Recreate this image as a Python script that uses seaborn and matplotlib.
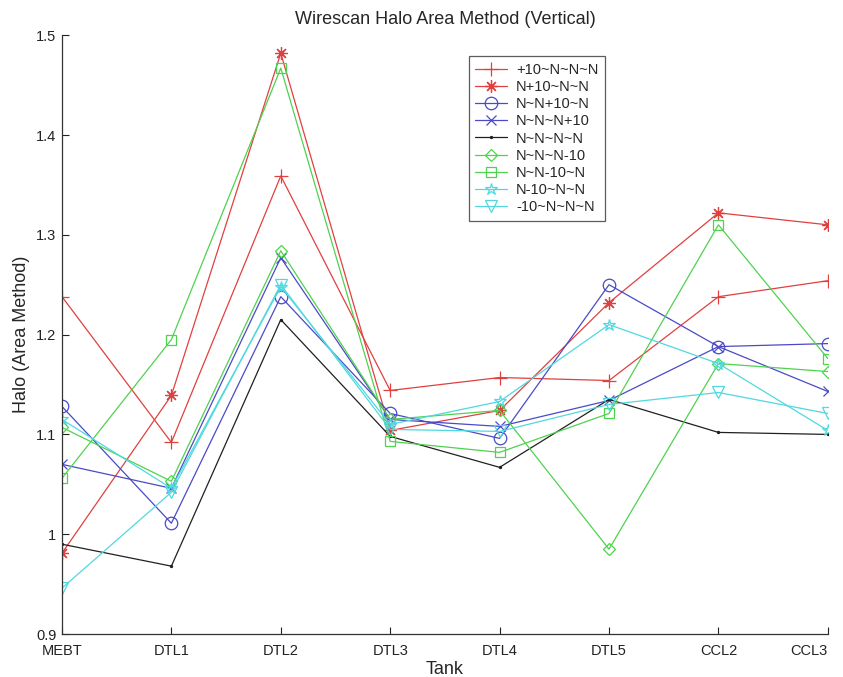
import matplotlib
matplotlib.use("Agg")
import matplotlib.pyplot as plt
import seaborn as sns
import pandas as pd

tanks = ["MEBT", "DTL1", "DTL2", "DTL3", "DTL4", "DTL5", "CCL2", "CCL3"]

s_p10_n_n_n = [1.238, 1.092, 1.359, 1.144, 1.157, 1.154, 1.238, 1.254]
s_n_p10_n_n = [0.981, 1.139, 1.482, 1.104, 1.124, 1.232, 1.322, 1.310]
s_n_n_p10_n = [1.128, 1.011, 1.238, 1.121, 1.096, 1.250, 1.188, 1.191]
s_n_n_n_p10 = [1.070, 1.046, 1.277, 1.115, 1.108, 1.134, 1.188, 1.143]
s_n_n_n_n   = [0.990, 0.968, 1.215, 1.098, 1.067, 1.135, 1.102, 1.100]
s_n_n_n_m10 = [1.107, 1.053, 1.284, 1.115, 1.124, 0.985, 1.171, 1.163]
s_n_n_m10_n = [1.056, 1.195, 1.467, 1.093, 1.082, 1.121, 1.310, 1.176]
s_n_m10_n_n = [1.115, 1.046, 1.248, 1.110, 1.133, 1.210, 1.171, 1.104]
s_m10_n_n_n = [0.946, 1.042, 1.250, 1.105, 1.103, 1.130, 1.142, 1.121]

labels = ["+10~N~N~N", "N+10~N~N", "N~N+10~N", "N~N~N+10", "N~N~N~N",
          "N~N~N-10", "N~N-10~N", "N-10~N~N", "-10~N~N~N"]
series = [s_p10_n_n_n, s_n_p10_n_n, s_n_n_p10_n, s_n_n_n_p10, s_n_n_n_n,
          s_n_n_n_m10, s_n_n_m10_n, s_n_m10_n_n, s_m10_n_n_n]

red = "#e0403f"
blue = "#4a4ac8"
black = "#202020"
green = "#4fd24f"
cyan = "#4fd8e0"
colors = [red, red, blue, blue, black, green, green, cyan, cyan]
markers = ["+", (8, 2, 0), "o", "x", ".", "D", "s", "*", "v"]
msizes = [10, 9, 9, 7, 3, 6, 7, 9, 8]
filled = [True, True, False, True, True, False, False, False, False]

sns.set_style("white")
plt.rcParams["font.family"] = ["Liberation Sans", "DejaVu Sans"]

fig = plt.figure(figsize=(8.43, 6.77), dpi=100)
ax = fig.add_axes([0.0735, 0.0635, 0.9085, 0.8845])

xs = list(range(len(tanks)))
for lab, vals, c, m, ms, f in zip(labels, series, colors, markers, msizes, filled):
    df = pd.DataFrame({"x": xs, "y": vals})
    mfc = c if f else "none"
    sns.lineplot(data=df, x="x", y="y", ax=ax, color=c, marker=m,
                 markersize=ms, markerfacecolor=mfc, markeredgecolor=c,
                 markeredgewidth=0.9, linewidth=0.9, label=lab)

ax.set_xlim(0, len(tanks) - 1)
ax.set_ylim(0.9, 1.5)
ax.set_xticks(xs)
ax.set_xticklabels(tanks)
ax.set_yticks([0.9, 1.0, 1.1, 1.2, 1.3, 1.4, 1.5])
ax.set_yticklabels(["0.9", "1", "1.1", "1.2", "1.3", "1.4", "1.5"])
ax.tick_params(axis="both", direction="in", length=5, width=0.8,
               labelsize=10.5, colors="#222222", bottom=True, left=True)
ax.tick_params(axis="x", pad=7)
ax.tick_params(axis="y", pad=4)
xt = ax.get_xticklabels()
xt[-1].set_horizontalalignment("right")
xt[-1].set_x(len(tanks) - 1)
for sp in ["top", "right"]:
    ax.spines[sp].set_visible(False)
for sp in ["left", "bottom"]:
    ax.spines[sp].set_color("#333333")
    ax.spines[sp].set_linewidth(0.9)

ax.set_xlabel("Tank", fontsize=13, labelpad=2)
ax.set_ylabel("Halo (Area Method)", fontsize=13, labelpad=4)
ax.set_title("Wirescan Halo Area Method (Vertical)", fontsize=13, pad=8)

leg = ax.legend(loc="upper left", bbox_to_anchor=(0.531, 0.965), fontsize=10.5,
                frameon=True, fancybox=False, edgecolor="#333333",
                handlelength=2.2, labelspacing=0.22, borderpad=0.45,
                handletextpad=0.6, borderaxespad=0)
leg.get_frame().set_linewidth(0.9)

fig.savefig("out.png", dpi=100)
